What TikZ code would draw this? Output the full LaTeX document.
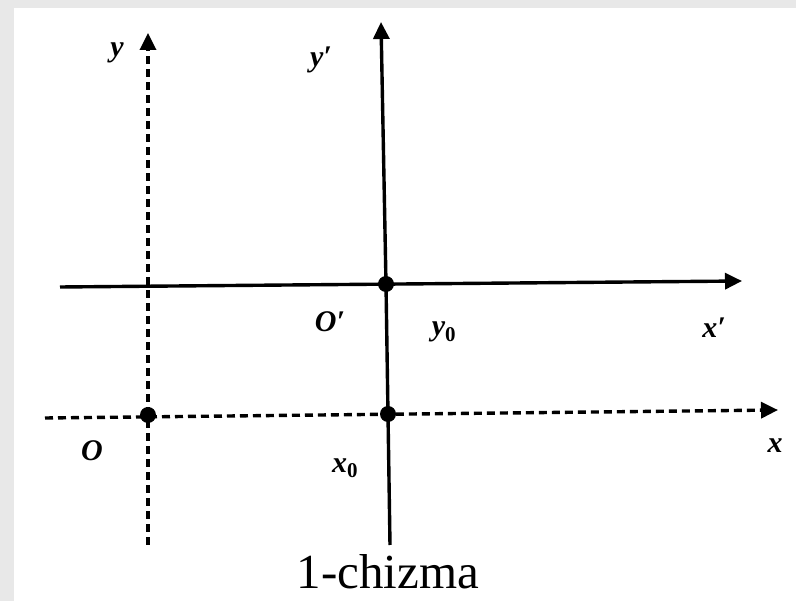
\documentclass[tikz,border=0pt]{standalone}
\usepackage{fontspec}
\setmainfont{Liberation Serif}
\usetikzlibrary{arrows.meta}
\tikzset{
  axisline/.style={line width=3.4pt, -{Triangle[length=17pt,width=16pt]}},
  dashaxis/.style={axisline, dash pattern=on 8pt off 5pt},
  plainline/.style={line width=3.4pt},
  dotnode/.style={circle, fill=black, inner sep=0pt, minimum size=16pt},
  lbl/.style={font=\fontsize{30}{34}\selectfont\bfseries\itshape, inner sep=0pt},
}
\begin{document}
\begin{tikzpicture}[x=1pt,y=-1pt]
\fill[black!9] (0,0) rectangle (796,601);
\fill[white] (14,8) rectangle (796,601);
\useasboundingbox (0,0) rectangle (796,601);
% axis end points
\coordinate (yb) at (148,545);
\coordinate (yt) at (148,33);
\coordinate (ypt) at (381,22);
\coordinate (ypb) at (390,545);
\coordinate (xpl) at (60,287);
\coordinate (xpr) at (742,281);
\coordinate (xl) at (45,418);
\coordinate (xr) at (778,410);
% axes
\draw[dashaxis] (yb) -- (yt);
\draw[dashaxis] (xl) -- (xr);
\draw[plainline] (ypb) -- (386,284);
\draw[axisline] (386,284) -- (ypt);
\draw[axisline] (xpl) -- (xpr);
% dots
\node[dotnode] (O) at (148,415) {};
\node[dotnode] (Op) at (386,284) {};
\node[dotnode] (X0) at (388,414) {};
% labels
\node[lbl] (ly) at (117,53) {y};
\node[lbl] (lyp) at (321,60) {y′};
\node[lbl] (lOp) at (330,322) {O′};
\node[lbl] (ly0) at (444,332) {y\textsubscript{\upshape 0}};
\node[lbl] (lxp) at (714,328) {x′};
\node[lbl] (lO) at (92,451) {O};
\node[lbl] (lx0) at (345,468) {x\textsubscript{\upshape 0}};
\node[lbl] (lx) at (775,446) {x};
\node[font=\fontsize{49}{53}\selectfont, inner sep=0pt, anchor=base] (cap) at (388,589) {1-chizma};
\end{tikzpicture}
\end{document}
